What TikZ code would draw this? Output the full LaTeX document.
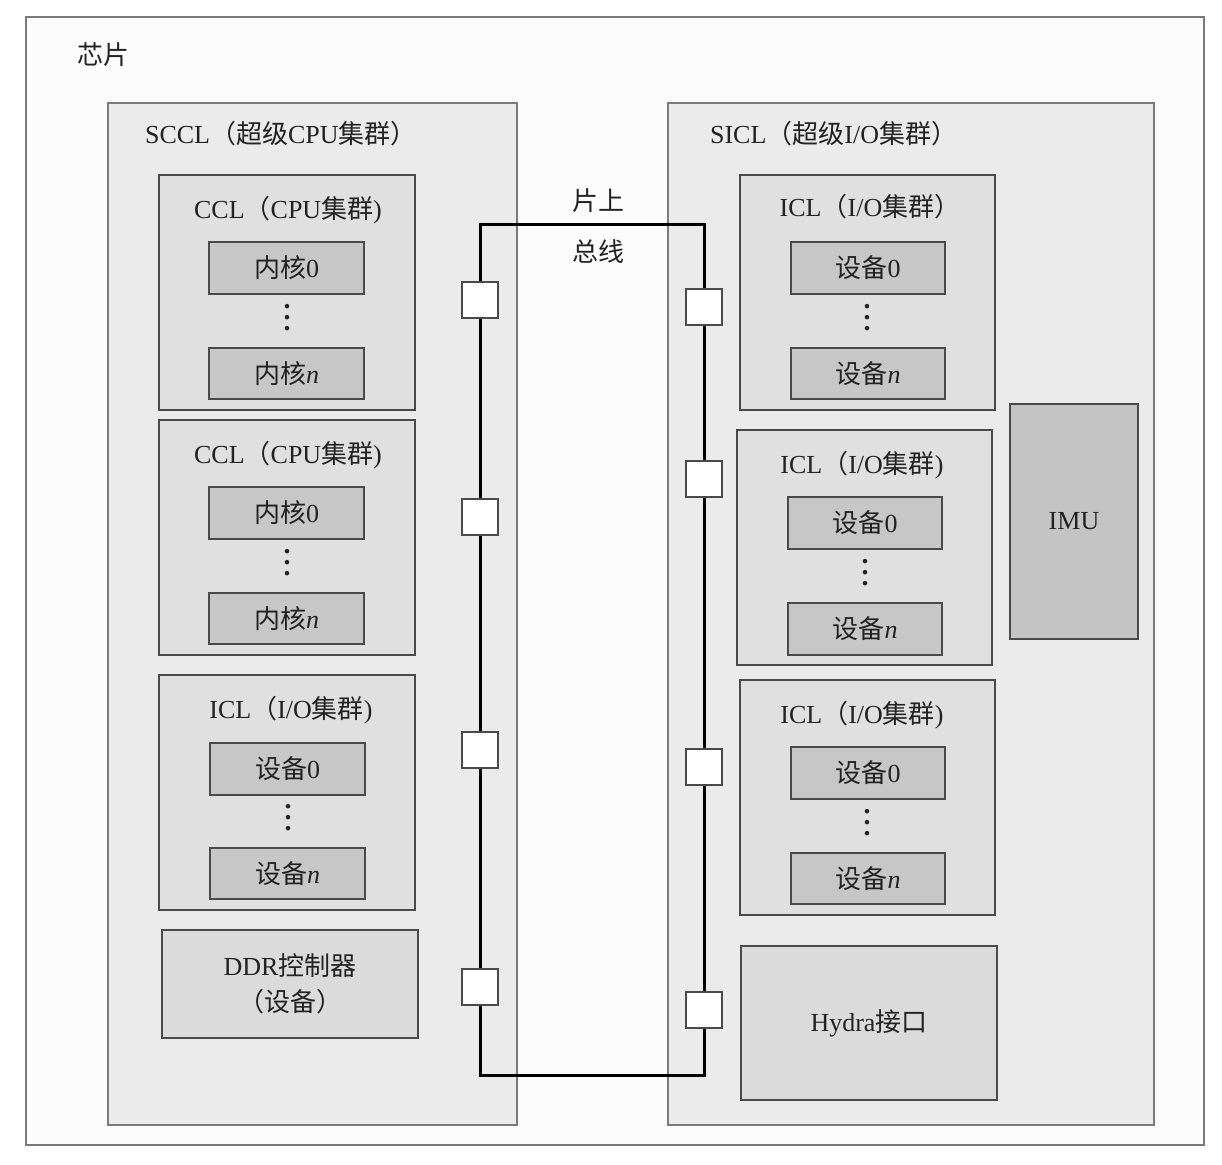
\documentclass[tikz,border=0pt]{standalone}
\usepackage{fontspec}
\setmainfont{Liberation Serif}
\newfontfamily\cjkfont{Noto Sans CJK SC}
\newcommand\zh[1]{{\cjkfont #1}}
\usetikzlibrary{fit}

\definecolor{edge}{HTML}{4A4A4A}
\definecolor{chipedge}{HTML}{7A7A7A}
\definecolor{chipfill}{HTML}{FCFCFC}
\definecolor{superfill}{HTML}{EBEBEB}
\definecolor{clusterfill}{HTML}{E0E0E0}
\definecolor{unitfill}{HTML}{C7C7C7}
\definecolor{ctrlfill}{HTML}{DBDBDB}
\definecolor{imufill}{HTML}{C4C4C4}
\definecolor{txt}{HTML}{222222}

% three stacked dots meaning "and so on"
\newcommand\stackdots{\textbf{.}\\\textbf{.}\\\textbf{.}}

\begin{document}
\begin{tikzpicture}[x=0.5pt, y=-0.5pt,
  every node/.style={font=\fontsize{13}{16}\selectfont, text=txt},
  panel/.style={draw=edge, line width=1pt, inner sep=0pt},
  chipbox/.style={draw=chipedge, line width=1pt, fill=chipfill, inner sep=0pt},
  superbox/.style={panel, draw=chipedge, fill=superfill},
  clusterbox/.style={panel, fill=clusterfill},
  unitbox/.style={panel, fill=unitfill},
  ctrlbox/.style={panel, fill=ctrlfill},
  imubox/.style={panel, fill=imufill},
  lbl/.style={inner sep=1pt, anchor=center},
  vdot/.style={inner sep=0pt, align=center, font=\fontsize{14}{5.5}\selectfont},
  port/.style={draw=edge, line width=0.9pt, fill=white, minimum width=18pt, minimum height=18pt, inner sep=0pt},
  bus/.style={line width=1.5pt, black}
]
\useasboundingbox (0,0) rectangle (1222,1165);

% chip
\node[chipbox, fit={(26,17) (1204,1145)}] (chip) {};
\node[anchor=west] (chiplbl) at (70,55) {\zh{芯片}};

% super clusters
\node[superbox, fit={(108,103) (517,1125)}] (sccl) {};
\node[anchor=west] (sccllbl) at (138,134) {SCCL\zh{（超级}CPU\zh{集群）}};
\node[superbox, fit={(668,103) (1154,1125)}] (sicl) {};
\node[anchor=west] (sicllbl) at (703,134) {SICL\zh{（超级}I/O\zh{集群）}};

% left side: CPU clusters, I/O cluster, DDR controller
\node[clusterbox, fit={(159,175) (415,410)}] (ccla) {};
\node[lbl] (cclalbl) at (288,210) {CCL\zh{（}CPU\zh{集群})};
\node[unitbox, fit={(209,242) (364,294)}] (ccla0) {};
\node[lbl] at (ccla0.center) {\zh{内核}0};
\node[vdot] (cclad) at (287,318) {\stackdots};
\node[unitbox, fit={(209,348) (364,399)}] (ccla1) {};
\node[lbl] at (ccla1.center) {\zh{内核}\textit{n}};

\node[clusterbox, fit={(159,420) (415,655)}] (cclb) {};
\node[lbl] (cclblbl) at (288,455) {CCL\zh{（}CPU\zh{集群})};
\node[unitbox, fit={(209,487) (364,539)}] (cclb0) {};
\node[lbl] at (cclb0.center) {\zh{内核}0};
\node[vdot] (cclbd) at (287,563) {\stackdots};
\node[unitbox, fit={(209,593) (364,644)}] (cclb1) {};
\node[lbl] at (cclb1.center) {\zh{内核}\textit{n}};

\node[clusterbox, fit={(159,675) (415,910)}] (icll) {};
\node[lbl] (icllbl) at (291,710) {ICL\zh{（}I/O\zh{集群})};
\node[unitbox, fit={(210,743) (365,795)}] (icll0) {};
\node[lbl] at (icll0.center) {\zh{设备}0};
\node[vdot] (iclld) at (288,818) {\stackdots};
\node[unitbox, fit={(210,848) (365,899)}] (icll1) {};
\node[lbl] at (icll1.center) {\zh{设备}\textit{n}};

\node[ctrlbox, fit={(162,930) (418,1038)}] (ddr) {};
\node[lbl, align=center] (ddrlbl) at (ddr.center) {DDR\zh{控制器}\\[2pt]\zh{（设备）}};

% right side: I/O clusters, Hydra interface, IMU
\node[clusterbox, fit={(740,175) (995,410)}] (icra) {};
\node[lbl] (icralbl) at (870,207) {ICL\zh{（}I/O\zh{集群）}};
\node[unitbox, fit={(791,242) (945,294)}] (icra0) {};
\node[lbl] at (icra0.center) {\zh{设备}0};
\node[vdot] (icrad) at (867,318) {\stackdots};
\node[unitbox, fit={(791,348) (945,399)}] (icra1) {};
\node[lbl] at (icra1.center) {\zh{设备}\textit{n}};

\node[clusterbox, fit={(737,430) (992,665)}] (icrb) {};
\node[lbl] (icrblbl) at (862,465) {ICL\zh{（}I/O\zh{集群})};
\node[unitbox, fit={(788,497) (942,549)}] (icrb0) {};
\node[lbl] at (icrb0.center) {\zh{设备}0};
\node[vdot] (icrbd) at (865,573) {\stackdots};
\node[unitbox, fit={(788,603) (942,655)}] (icrb1) {};
\node[lbl] at (icrb1.center) {\zh{设备}\textit{n}};

\node[clusterbox, fit={(740,680) (995,915)}] (icrc) {};
\node[lbl] (icrclbl) at (862,715) {ICL\zh{（}I/O\zh{集群})};
\node[unitbox, fit={(791,747) (945,799)}] (icrc0) {};
\node[lbl] at (icrc0.center) {\zh{设备}0};
\node[vdot] (icrcd) at (867,823) {\stackdots};
\node[unitbox, fit={(791,853) (945,904)}] (icrc1) {};
\node[lbl] at (icrc1.center) {\zh{设备}\textit{n}};

\node[ctrlbox, fit={(741,946) (997,1100)}] (hydra) {};
\node[lbl] (hydralbl) at (hydra.center) {Hydra\zh{接口}};
\node[imubox, fit={(1010,404) (1138,639)}] (imu) {};
\node[lbl] (imulbl) at (imu.center) {IMU};

% on-chip bus label
\node (buslbla) at (598,201) {\zh{片上}};
\node (buslblb) at (598,252) {\zh{总线}};

% bus ports
\node[port] (pl1) at (480,300) {};
\node[port] (pl2) at (480,517) {};
\node[port] (pl3) at (480,750) {};
\node[port] (pl4) at (480,987) {};
\node[port] (pr1) at (704,307) {};
\node[port] (pr2) at (704,479) {};
\node[port] (pr3) at (704,767) {};
\node[port] (pr4) at (704,1010) {};

% bus loop corners
\coordinate (btl) at (480,225);
\coordinate (btr) at (704,225);
\coordinate (bbr) at (704,1075);
\coordinate (bbl) at (480,1075);

% bus ring through the ports
\draw[bus] (pl1.north) -- (btl) -- (btr) -- (pr1.north);
\draw[bus] (pl1.south) -- (pl2.north);
\draw[bus] (pl2.south) -- (pl3.north);
\draw[bus] (pl3.south) -- (pl4.north);
\draw[bus] (pl4.south) -- (bbl) -- (bbr) -- (pr4.south);
\draw[bus] (pr1.south) -- (pr2.north);
\draw[bus] (pr2.south) -- (pr3.north);
\draw[bus] (pr3.south) -- (pr4.north);
\end{tikzpicture}
\end{document}
